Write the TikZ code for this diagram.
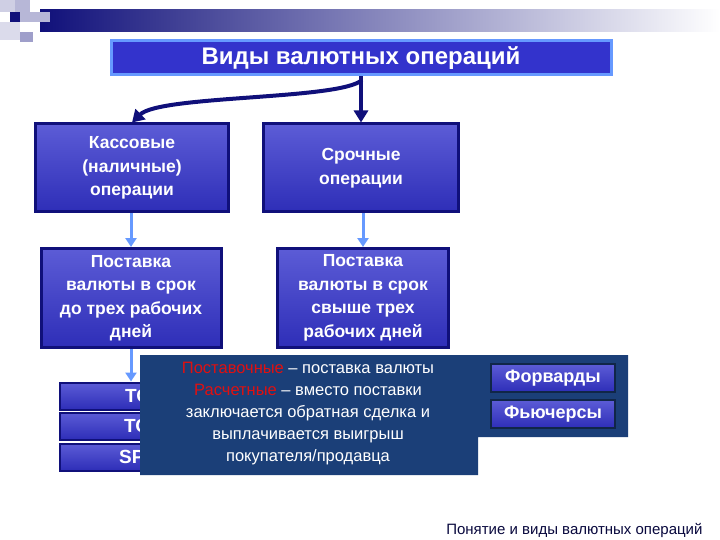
\documentclass[tikz,border=0pt]{standalone}
\usepackage{fontspec}
\setmainfont{Liberation Sans}
\usetikzlibrary{arrows.meta}
\definecolor{navy}{HTML}{10107A}
\definecolor{mblue}{HTML}{3333CC}
\definecolor{lblue}{HTML}{6699FF}
\definecolor{ovl}{HTML}{1B3F78}
\definecolor{rd}{HTML}{E01010}
\begin{document}
\begin{tikzpicture}[x=1pt,y=-1pt,
  box/.style={draw=navy,line width=3pt,top color=mblue!80!white,bottom color=mblue!90!black,text=white,font=\bfseries\fontsize{17.5}{23.5}\selectfont,align=center,inner sep=0pt},
  sbox/.style={draw=navy,line width=2pt,top color=mblue!80!white,bottom color=mblue!90!black,text=white,font=\bfseries\fontsize{19}{20}\selectfont,inner sep=0pt},
  larr/.style={-{Triangle[length=9pt,width=11pt]},lblue,line width=3pt},
  darr/.style={-{Triangle[length=12pt,width=14pt]},navy,line width=4pt}]
\useasboundingbox (0,0) rectangle (720,540);
% decoration
\shade[left color=navy,right color=white] (40,10) rectangle (720,32);
\fill[navy!20] (0,0) rectangle (15,12);
\fill[navy!30] (15,0) rectangle (30,12);
\fill[navy] (10,12) rectangle (20,22);
\fill[navy!30] (20,12) rectangle (50,22);
\fill[navy!15] (0,22) rectangle (20,40);
\fill[navy!40] (20,32) rectangle (33,42);
% title
\node[draw=lblue,line width=3pt,fill=mblue,text=white,font=\bfseries\fontsize{24}{28}\selectfont,minimum width=500pt,minimum height=34pt,inner sep=0pt] (title) at (361,58) {Виды валютных операций};
\node[box,minimum width=193pt,minimum height=88pt] (kas) at (132,168) {Кассовые\\(наличные)\\операции};
\node[box,minimum width=195pt,minimum height=88pt] (sro) at (361,168) {Срочные\\операции};
\node[box,minimum width=180pt,minimum height=99pt] (pl) at (131,298) {Поставка\\валюты в срок\\до трех рабочих\\дней};
\node[box,minimum width=171pt,minimum height=99pt] (pr) at (363,298) {Поставка\\валюты в срок\\свыше трех\\рабочих дней};
\draw[darr] (title.south -| sro) -- (sro.north);
\draw[darr] (362,80) .. controls (340,100) and (160,95) .. (kas.north);
\draw[larr] (kas.south -| 131,0) -- (pl.north);
\draw[larr] (sro.south -| pr) -- (pr.north);
\node[sbox,minimum width=170pt,minimum height=27pt] (tod) at (145,396) {TOD};
\node[sbox,minimum width=170pt,minimum height=27pt] (tom) at (145,426) {TOM};
\node[sbox,minimum width=170pt,minimum height=27pt] (spot) at (145,457) {SPOT};
\draw[larr] (pl.south) -- (pl.south |- tod.north);
% overlay
\fill[ovl] (140,355) -- (628,355) -- (628,437) -- (478,437) -- (478,475) -- (140,475) -- cycle;
\node[align=center,text=white,font=\fontsize{16.5}{22}\selectfont] (txt) at (308,414)
 {\textcolor{rd}{Поставочные} – поставка валюты\\\textcolor{rd}{Расчетные} – вместо поставки\\заключается обратная сделка и\\выплачивается выигрыш\\покупателя/продавца};
\node[sbox,draw=ovl!60!black,minimum width=124pt,minimum height=28pt,font=\bfseries\fontsize{18}{20}\selectfont] (fw) at (553,378) {Форварды};
\node[sbox,draw=ovl!60!black,minimum width=124pt,minimum height=28pt,font=\bfseries\fontsize{18}{20}\selectfont] (fu) at (553,414) {Фьючерсы};
\node[anchor=east,font=\fontsize{15}{18}\selectfont,text=navy!50!black] (foot) at (706,530) {Понятие и виды валютных операций};
\end{tikzpicture}
\end{document}
